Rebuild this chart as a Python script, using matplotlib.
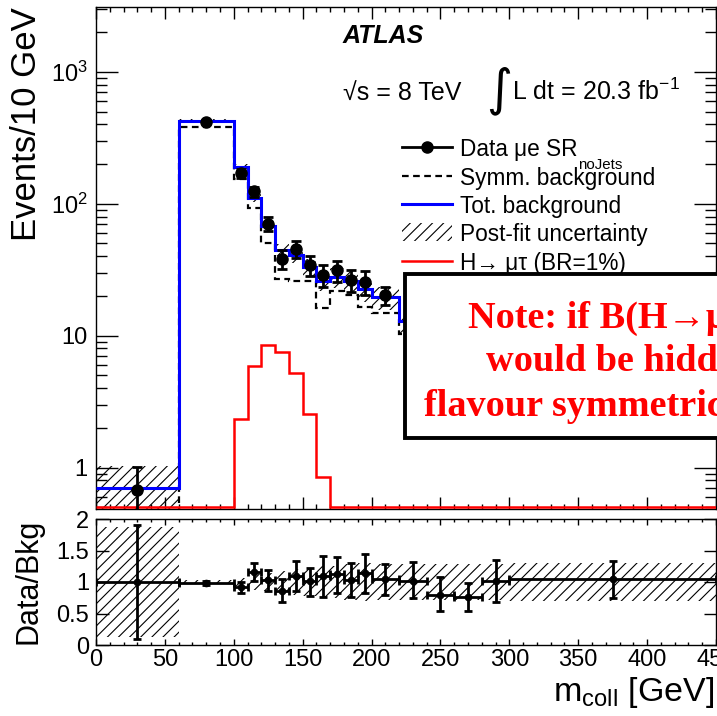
import matplotlib
matplotlib.use("Agg")
import matplotlib.pyplot as plt
import numpy as np
from matplotlib.patches import Rectangle
from matplotlib.lines import Line2D
from matplotlib.ticker import MultipleLocator, LogLocator, NullFormatter

plt.rcParams['font.family'] = ['Liberation Sans', 'DejaVu Sans']
plt.rcParams['mathtext.fontset'] = 'custom'
plt.rcParams['mathtext.rm'] = 'Liberation Sans'
plt.rcParams['mathtext.it'] = 'Liberation Sans:italic'
plt.rcParams['mathtext.bf'] = 'Liberation Sans:bold'
plt.rcParams['hatch.linewidth'] = 0.8

# ---------------- data ----------------
edges = [0, 60, 100, 110, 120, 130, 140, 150, 160, 170, 180, 190, 200,
         220, 240, 260, 280, 300, 450]
data = [0.68, 419, 171, 124, 70.7, 38.4, 45.2, 34.2, 28.7, 31.3, 26.4, 25.6,
        20.3, 13.2, 8.4, 6.5, 7.1, 3.1]
data_err = [0.33, 13, 13, 11, 8.4, 6.2, 6.7, 5.8, 5.4, 5.6, 5.1, 5.1,
            3.2, 2.6, 2.0, 1.8, 1.9, 0.45]
tot_bkg = [0.70, 427, 189, 111, 67.5, 44.9, 41.2, 33.2, 25.9, 27.9, 25.9, 22.5,
           19.5, 12.9, 10.5, 8.5, 7.0, 3.0]
symm_bkg = [0.4, 380, 153, 92.7, 50.5, 27.1, 26.0, 26.0, 16.1, 21.7, 20.3, 16.6,
            14.8, 10.3, 8.5, 7.0, 5.5, 2.4]
bkg_unc_rel = [0.48, 0.02, 0.05, 0.07, 0.09, 0.11, 0.13, 0.14, 0.16, 0.17, 0.18,
               0.2, 0.2, 0.2, 0.2, 0.2, 0.2, 0.2]
signal = [0, 0, 2.35, 5.84, 8.5, 7.45, 5.17, 2.55, 0.85, 0, 0, 0,
          0, 0, 0, 0, 0, 0]

ratio = [1.00, 0.98, 0.92, 1.16, 1.03, 0.85, 1.10, 1.02, 1.10, 1.125, 1.03, 1.135,
         1.05, 1.02, 0.80, 0.76, 1.02, 1.04]
ratio_lo = [0.10, 0.95, 0.83, 1.02, 0.85, 0.68, 0.85, 0.77, 0.76, 0.83, 0.76, 0.83,
            0.80, 0.75, 0.54, 0.54, 0.68, 0.75]
ratio_hi = [1.90, 1.01, 1.005, 1.30, 1.19, 1.04, 1.33, 1.23, 1.42, 1.40, 1.30, 1.45,
            1.29, 1.31, 1.08, 0.99, 1.35, 1.33]
ratio_band = [0.88, 0.03, 0.07, 0.12, 0.15, 0.17, 0.20, 0.22, 0.25, 0.26, 0.28, 0.30,
              0.28, 0.28, 0.28, 0.28, 0.28, 0.30]

ytick_vals = [1, 10, 100, 1000]
ytick_labels = ['1', '10', '$10^{2}$', '$10^{3}$']
rtick_vals = [0, 0.5, 1, 1.5, 2]
rtick_labels = ['0', '0.5', '1', '1.5', '2']

legend_labels = ['Data \u03bce SR', 'Symm. background', 'Tot. background',
                 'Post-fit uncertainty', 'H\u2192 \u03bc\u03c4 (BR=1%)']
note_lines = ['Note: if B(H\u2192\u03bc\u03c4) = B(H\u2192e\u03c4) the signal',
              'would be hidden in the',
              'flavour symmetric background']

# ---------------- figure ----------------
W, H = 717, 716
fig = plt.figure(figsize=(W / 100, H / 100), dpi=100)


def fx(x):
    return x / W


def fy(y):
    return 1 - y / H


ax1 = fig.add_axes([fx(96), fy(509), (716 - 96) / W, (509 - 7) / H])
ax2 = fig.add_axes([fx(96), fy(645), (716 - 96) / W, (645 - 519) / H])

e = np.array(edges, float)
centers = 0.5 * (e[:-1] + e[1:])
widths = np.diff(e)
d = np.array(data)
b = np.array(tot_bkg)
s = np.array(symm_bkg)
u = np.array(bkg_unc_rel)
ymin, ymax = 0.5, 3100
sig = np.clip(np.array(signal), ymin, None)

# hatch band
ax1.bar(e[:-1], 2 * u * b, bottom=b * (1 - u), width=widths, align='edge',
        fill=False, hatch='///', edgecolor='black', lw=0, zorder=1)
ax1.stairs(s, e, baseline=None, color='black', lw=1.6, ls=(0, (3, 2)), zorder=2)
ax1.stairs(b, e, baseline=None, color='#0000ff', lw=2.2, zorder=3)
ax1.stairs(sig, e, baseline=None, color='#ff0000', lw=1.8, zorder=3)
ax1.errorbar(centers, d, yerr=data_err, fmt='o', color='black', ms=8,
             elinewidth=2, capsize=3.5, capthick=2, zorder=4)

ax1.set_xlim(0, 450)
ax1.set_yscale('log')
ax1.set_ylim(0.485, ymax)
ax1.set_yticks(ytick_vals)
ax1.set_yticklabels(ytick_labels)
ax1.yaxis.set_minor_locator(LogLocator(base=10, subs=np.arange(2, 10)))
ax1.yaxis.set_minor_formatter(NullFormatter())
ax1.xaxis.set_major_locator(MultipleLocator(50))
ax1.xaxis.set_minor_locator(MultipleLocator(10))
ax1.tick_params(which='both', direction='in', top=True, right=True,
                labelbottom=False, width=1)
ax1.tick_params(axis='x', which='major', length=8.6)
ax1.tick_params(axis='x', which='minor', length=3.6)
ax1.tick_params(axis='y', which='major', length=16, labelsize=17, pad=6)
ax1.tick_params(axis='y', which='minor', length=8)
for sp in ax1.spines.values():
    sp.set_linewidth(1.0)

# ratio panel
rb = np.array(ratio_band)
ax2.bar(e[:-1], 2 * rb, bottom=1 - rb, width=widths, align='edge',
        fill=False, hatch='///', edgecolor='black', lw=0, zorder=1)
r = np.array(ratio)
ax2.errorbar(centers, r, yerr=[r - np.array(ratio_lo), np.array(ratio_hi) - r],
             xerr=widths / 2, fmt='o', color='black', ms=4.5, elinewidth=2,
             capsize=3, capthick=2, zorder=3)
ax2.set_xlim(0, 450)
ax2.set_ylim(0, 2)
ax2.set_yticks(rtick_vals)
ax2.set_yticklabels(rtick_labels)
ax2.xaxis.set_major_locator(MultipleLocator(50))
ax2.xaxis.set_minor_locator(MultipleLocator(10))
ax2.tick_params(which='both', direction='in', top=True, right=True, width=1)
ax2.tick_params(axis='x', which='major', length=4.3, labelsize=17, pad=3)
ax2.tick_params(axis='x', which='minor', length=2.2)
ax2.tick_params(axis='y', which='major', length=9, labelsize=17, pad=5)
for sp in ax2.spines.values():
    sp.set_linewidth(1.0)

# axis titles
fig.text(fx(27), fy(7), 'Events/10 GeV', rotation=90, ha='center', va='top',
         fontsize=25)
fig.text(fx(28), fy(581), 'Data/Bkg', rotation=90, ha='center', va='center',
         fontsize=22)
fig.text(fx(714), fy(701), r'm$_{\mathrm{coll}}$ [GeV]', ha='right',
         va='baseline', fontsize=24.5)

# header
fig.text(fx(343), fy(43), 'ATLAS', fontsize=18, fontweight='bold',
         fontstyle='italic', va='baseline')
fig.text(fx(343), fy(100), '\u221as = 8 TeV', fontsize=18, va='baseline')
fig.text(fx(486), fy(104), '\u222b', fontsize=36, va='baseline',
         family=['DejaVu Sans'])
fig.text(fx(512), fy(100), r'L dt = 20.3 fb$^{-1}$', fontsize=18, va='baseline')

# legend (manual)
leg_y = [147, 176, 204, 232, 261]
x0, x1, xt = 402, 452, 460
fig.add_artist(Line2D([fx(x0), fx(x1)], [fy(leg_y[0])] * 2, color='black', lw=2))
fig.add_artist(Line2D([fx((x0 + x1) / 2)], [fy(leg_y[0])], color='black',
                      marker='o', ms=8, ls='none'))
fig.add_artist(Line2D([fx(x0), fx(x1)], [fy(leg_y[1])] * 2, color='black', lw=1.6,
                      ls=(0, (3, 2))))
fig.add_artist(Line2D([fx(x0), fx(x1)], [fy(leg_y[2])] * 2, color='#0000ff', lw=2.2))
fig.add_artist(Rectangle((fx(x0), fy(leg_y[3] + 9)), fx(x1) - fx(x0),
                         fy(leg_y[3] - 9) - fy(leg_y[3] + 9), fill=False,
                         hatch='///', edgecolor='black', lw=0,
                         transform=fig.transFigure))
fig.add_artist(Line2D([fx(x0), fx(x1)], [fy(leg_y[4])] * 2, color='#ff0000', lw=1.8))
for yy, lab in zip(leg_y, legend_labels):
    fig.text(fx(xt), fy(yy), lab, fontsize=16.3, va='center_baseline')
fig.text(fx(600), fy(165), 'noJets', fontsize=10.8, ha='center', va='center')

# note box
box = Rectangle((fx(405), fy(438)), fx(820) - fx(405), fy(274) - fy(438),
                transform=fig.transFigure, facecolor='white', edgecolor='black',
                lw=2.8, zorder=20)
fig.add_artist(box)
for (xx, yy), line in zip([(468, 328), (486, 371), (424, 416)], note_lines):
    fig.text(fx(xx), fy(yy), line, fontsize=27.5, color='#ff0000', fontweight='bold',
             family=['Liberation Serif', 'DejaVu Serif'], va='baseline', zorder=21)

fig.savefig('out.png', dpi=100)
